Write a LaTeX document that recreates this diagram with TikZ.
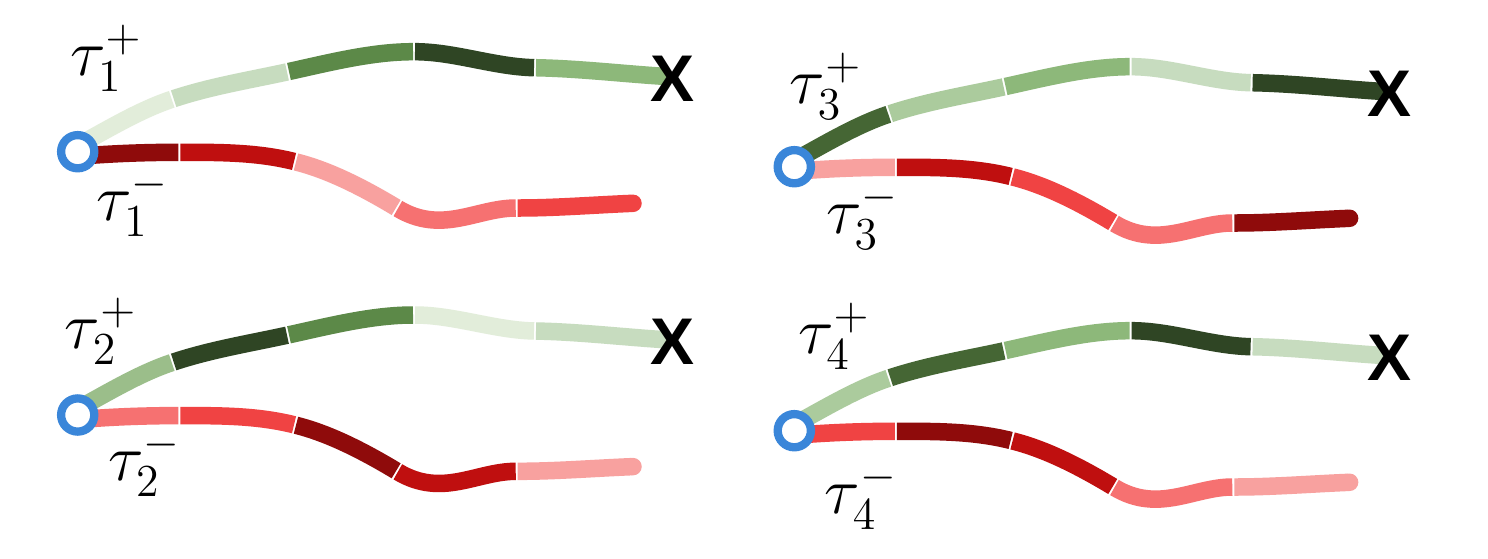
\documentclass[tikz,border=0pt]{standalone}
\usepackage{fontspec}
\newfontfamily\xfont{Liberation Sans}
\definecolor{gA}{HTML}{E2EDDA}
\definecolor{gB}{HTML}{C7DCBF}
\definecolor{gC}{HTML}{ABCB9D}
\definecolor{gD}{HTML}{8DB87A}
\definecolor{gDD}{HTML}{9BBE8A}
\definecolor{gE}{HTML}{5C8948}
\definecolor{gF}{HTML}{456634}
\definecolor{gG}{HTML}{2F4524}
\definecolor{rA}{HTML}{F8A19F}
\definecolor{rB}{HTML}{F67171}
\definecolor{rC}{HTML}{F04343}
\definecolor{rD}{HTML}{BF0F0F}
\definecolor{rE}{HTML}{8F0B0B}
\definecolor{ringblue}{HTML}{3A86D9}
\tikzset{
  trseg/.style={line width=17.5pt, line cap=butt, shorten <=1pt, shorten >=1pt},
  startring/.style={circle, draw=ringblue, line width=8.3pt, fill=white, minimum size=33.2pt, inner sep=0pt},
  goalx/.style={font=\xfont\bfseries\fontsize{66}{70}\selectfont, inner sep=0pt},
  taulabel/.style={font=\fontsize{20.74}{24}\selectfont, inner sep=0pt, anchor=base west}
}
\newcommand{\bigtau}[1]{\scalebox{3.18}{$#1$}}
\newcommand{\gpath}[5]{%
  \draw[trseg,#1] (0,-6) .. controls (31.7,-23.4) and (63.3,-42.2) .. (95,-52.7);
  \draw[trseg,#2] (95,-52.7) .. controls (133.4,-65.4) and (171.9,-71.6) .. (210.3,-80);
  \draw[trseg,#3] (210.3,-80) .. controls (252.3,-89.2) and (294.3,-100) .. (336.3,-100);
  \draw[trseg,#4] (336.3,-100) .. controls (376.6,-100) and (417,-84.8) .. (457.3,-84);
  \draw[trseg,#5] (457.3,-84) .. controls (502.2,-83.1) and (547.1,-77.7) .. (592,-75);
}
\newcommand{\rpath}[5]{%
  \draw[trseg,#1] (2,4.5) .. controls (35.2,1.8) and (68.4,0.6) .. (101.6,0.6);
  \draw[trseg,#2] (101.6,0.6) .. controls (140.2,0.6) and (178.7,0.35) .. (217.3,10);
  \draw[trseg,#3] (217.3,10) .. controls (251.3,18.5) and (285.3,35.9) .. (319.3,56.3);
  \draw[trseg,#4] (319.3,56.3) .. controls (364.3,83.3) and (399,56.3) .. (439,56.3);
  \draw[trseg,#5] (439,56.3) .. controls (477.8,56.3) and (516.5,53.2) .. (555.3,51.6);
  \fill[#5] (555.3,51.6) circle (8.75pt);
}
\begin{document}
\begin{tikzpicture}[x=1pt,y=-1pt]
\useasboundingbox[fill=white] (0,0) rectangle (1488,558);
% panel 1
\begin{scope}[shift={(77.7,151.7)}]
  \gpath{gA}{gB}{gE}{gG}{gD}
  \rpath{rE}{rD}{rA}{rB}{rC}
  \node[startring] (s1) at (0,0) {};
  \node[goalx] (x1) at (595,-73) {X};
  \node[taulabel] (p1) at (-7.7,-76.7) {\bigtau{\tau_1^+}};
  \node[taulabel] (m1) at (18.3,68.3) {\bigtau{\tau_1^-}};
\end{scope}
% panel 2
\begin{scope}[shift={(77.7,415)}]
  \gpath{gDD}{gG}{gE}{gA}{gB}
  \rpath{rB}{rC}{rE}{rD}{rA}
  \node[startring] (s2) at (0,0) {};
  \node[goalx] (x2) at (595,-73) {X};
  \node[taulabel] (p2) at (-13,-67) {\bigtau{\tau_2^+}};
  \node[taulabel] (m2) at (30.3,65) {\bigtau{\tau_2^-}};
\end{scope}
% panel 3
\begin{scope}[shift={(794.3,166.7)}]
  \gpath{gF}{gC}{gD}{gB}{gG}
  \rpath{rA}{rD}{rC}{rB}{rE}
  \node[startring] (s3) at (0,0) {};
  \node[goalx] (x3) at (595,-73) {X};
  \node[taulabel] (p3) at (-4.6,-63.4) {\bigtau{\tau_3^+}};
  \node[taulabel] (m3) at (32,66.6) {\bigtau{\tau_3^-}};
\end{scope}
% panel 4
\begin{scope}[shift={(794.3,430.7)}]
  \gpath{gC}{gF}{gD}{gG}{gB}
  \rpath{rC}{rE}{rD}{rB}{rA}
  \node[startring] (s4) at (0,0) {};
  \node[goalx] (x4) at (595,-73) {X};
  \node[taulabel] (p4) at (3.7,-77.4) {\bigtau{\tau_4^+}};
  \node[taulabel] (m4) at (30.4,82.6) {\bigtau{\tau_4^-}};
\end{scope}
\end{tikzpicture}
\end{document}
